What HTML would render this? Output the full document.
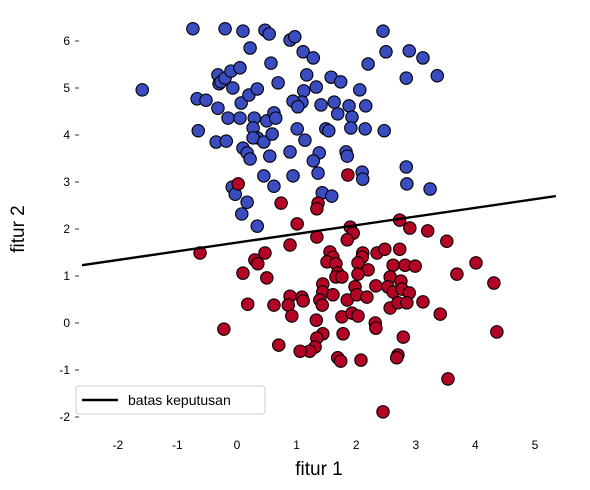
<!DOCTYPE html>
<html><head><meta charset="utf-8"><style>
html,body{margin:0;padding:0;background:#fff;}
svg{display:block;font-family:"Liberation Sans","DejaVu Sans",sans-serif;}
</style></head><body>
<svg id="chart" width="590" height="490">
<g id="ticks"></g>
<g id="pts"></g>
<g id="line"></g>
<text x="319" y="475" font-size="19" text-anchor="middle">fitur 1</text>
<text transform="translate(24,229) rotate(-90)" font-size="19" text-anchor="middle">fitur 2</text>
<g>
<rect x="76" y="386" width="189" height="28" fill="#fff" stroke="#ccc" rx="3"/>
<line x1="82" y1="400" x2="118" y2="400" stroke="#000" stroke-width="2.4"/>
<text x="128" y="405" font-size="14">batas keputusan</text>
</g>
</svg>
<script>
const xTicks=[-2,-1,0,1,2,3,4,5];
const yTicks=[-2,-1,0,1,2,3,4,5,6];
const blueX=[-0.74,-0.2,0.1,0.47,0.54,0.89,0.97,0.22,0.57,1.11,1.28,2.45,2.5,2.89,3.12,2.2,2.84,3.36,1.17,1.58,1.74,2.06,1.33,1.12,1.09,0.94,1.02,1.41,1.63,1.88,2.16,1.69,1.93,1.91,2.15,2.47,1.01,1.14,1.49,1.54,0.89,1.38,1.28,1.83,1.85,1.36,0.94,2.1,2.11,2.84,2.85,3.24,1.43,1.59,-0.08,-0.03,0.17,0.08,0.34,0.45,0.62,-1.59,-0.65,-0.67,-0.52,-0.32,-0.15,0.05,0.29,0.27,0.34,0.27,0.45,0.59,0.5,0.62,0.65,0.07,0.2,0.34,-0.07,-0.32,-0.3,-0.27,-0.2,-0.1,0.05,0.69,-0.35,-0.18,0.1,0.17,0.22,0.55];
const blueY=[6.26,6.26,6.21,6.23,6.15,6.02,6.09,5.85,5.53,5.77,5.64,6.21,5.77,5.79,5.64,5.51,5.21,5.26,5.28,5.23,5.13,4.96,5.02,4.94,4.7,4.72,4.6,4.64,4.7,4.62,4.62,4.45,4.38,4.15,4.13,4.09,4.13,3.89,4.13,4.09,3.64,3.62,3.45,3.64,3.55,3.19,3.13,3.21,3.06,3.32,2.96,2.85,2.77,2.7,2.89,2.74,2.57,2.32,2.06,3.13,2.91,4.96,4.09,4.77,4.74,4.57,4.36,4.36,4.36,4.15,3.94,3.94,3.85,4.02,4.3,4.47,4.36,4.68,4.85,4.98,5.0,5.28,5.09,5.13,5.21,5.36,5.43,5.11,3.85,3.87,3.72,3.62,3.49,3.55];
const redX=[0.02,0.74,1.36,1.34,0.89,1.01,1.86,-0.62,0.47,0.3,0.35,0.1,0.5,1.34,1.9,1.95,1.85,1.56,1.61,1.51,1.66,1.69,1.66,1.76,1.44,1.44,1.61,1.39,1.43,0.89,1.09,1.11,0.86,0.92,1.33,1.76,1.85,1.78,0.18,0.62,-0.22,0.7,1.44,1.34,1.31,1.22,1.06,1.69,1.74,2.73,2.9,3.2,3.52,2.11,2.35,2.48,2.73,2.1,2.03,2.2,2.03,2.62,2.82,2.99,4.01,3.69,2.57,2.75,2.33,2.53,2.62,2.77,2.89,1.98,2.01,2.18,2.57,2.7,2.85,3.12,3.41,4.31,4.36,1.93,2.03,2.32,2.33,2.79,2.7,2.68,2.08,3.54,2.45];
const redY=[2.96,2.55,2.55,2.43,1.66,2.11,3.15,1.49,1.49,1.34,1.26,1.06,0.96,1.83,2.04,1.91,1.77,1.51,1.4,1.3,1.26,1.06,0.98,0.98,0.83,0.66,0.6,0.49,0.38,0.57,0.55,0.47,0.38,0.15,0.06,0.13,0.49,-0.23,0.4,0.38,-0.13,-0.47,-0.23,-0.32,-0.51,-0.6,-0.6,-0.74,-0.81,2.19,2.02,1.96,1.74,1.49,1.49,1.57,1.57,1.4,1.28,1.13,1.04,1.23,1.23,1.21,1.28,1.04,0.98,0.89,0.79,0.77,0.66,0.72,0.64,0.77,0.6,0.55,0.32,0.43,0.43,0.45,0.19,0.85,-0.19,0.21,0.15,0.0,-0.11,-0.3,-0.68,-0.74,-0.79,-1.19,-1.89];
const lineX=[-2.6,5.35];
const lineY=[1.23,2.7];
const NS="http://www.w3.org/2000/svg";
function sx(v){return 237+v*59.6;}
function sy(v){return 323-v*47;}
const tg=document.getElementById('ticks');
xTicks.forEach(t=>{
  const tx=document.createElementNS(NS,'text');
  tx.setAttribute('x',sx(t));tx.setAttribute('y',449);tx.setAttribute('font-size','12');tx.setAttribute('text-anchor','middle');
  
  
  tx.textContent=t<0?'-'+Math.abs(t):t;tg.appendChild(tx);
});
yTicks.forEach(t=>{
  const tx=document.createElementNS(NS,'text');
  tx.setAttribute('x',70);tx.setAttribute('y',sy(t)+4);tx.setAttribute('font-size','12');tx.setAttribute('text-anchor','end');
  
  
  tx.textContent=t<0?'-'+Math.abs(t):t;tg.appendChild(tx);
  const ln=document.createElementNS(NS,'line');
  ln.setAttribute('x1',75);ln.setAttribute('x2',79);ln.setAttribute('y1',sy(t));ln.setAttribute('y2',sy(t));ln.setAttribute('stroke','#333');
  
  
  tg.appendChild(ln);
});
const pg=document.getElementById('pts');
function dot(x,y,fill,name){
  const c=document.createElementNS(NS,'circle');
  c.setAttribute('cx',sx(x));c.setAttribute('cy',sy(y));c.setAttribute('r',6.2);
  c.setAttribute('fill',fill);c.setAttribute('stroke','#000');c.setAttribute('stroke-width','1.1');
  
  
  pg.appendChild(c);
}
blueX.forEach((x,i)=>dot(x,blueY[i],'#3b4cc0','point-class-0'));
redX.forEach((x,i)=>dot(x,redY[i],'#b40426','point-class-1'));
const l=document.createElementNS(NS,'line');
l.setAttribute('x1',sx(lineX[0]));l.setAttribute('y1',sy(lineY[0]));l.setAttribute('x2',sx(lineX[1]));l.setAttribute('y2',sy(lineY[1]));
l.setAttribute('stroke','#000');l.setAttribute('stroke-width','2.4');


document.getElementById('line').appendChild(l);
</script>
</body></html>
